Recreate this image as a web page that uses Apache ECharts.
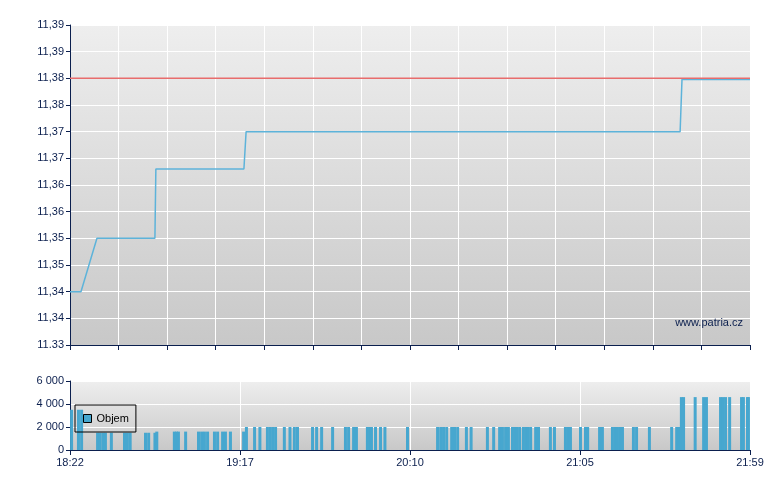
<!DOCTYPE html>
<html><head><meta charset="utf-8">
<script src="https://cdn.jsdelivr.net/npm/echarts@6/dist/echarts.min.js"></script>
<style>html,body{margin:0;padding:0;background:#fff}#c{width:780px;height:490px}</style>
</head><body><div id="c"></div>
<script>
// minutes since 18:22
const priceTimes = [0, 3.5, 8.6, 27.1, 27.4, 55.5, 56.2, 194.7, 195.3, 217];
const priceValues = [11.345, 11.345, 11.355, 11.355, 11.368, 11.368, 11.375, 11.375, 11.3848, 11.3848];
const prevClose = 11.385;
const priceTickLabels = ['11.33','11,34','11,34','11,35','11,35','11,36','11,36','11,37','11,37','11,38','11,38','11,39','11,39'];
const timeLabels = ['18:22','19:17','20:10','21:05','21:59'];
const volumeTickLabels = ['0','2 000','4 000','6 000'];
const volumeTimes = [
  0.5, 2.7, 3.7,
  8.8, 9.6, 10.5, 11.3, 13.2, 17.4, 18.3, 19.2, 24.1, 25.1, 27.1,
  27.7, 33.3, 34.0, 34.6, 36.9, 41.0, 42.0, 42.9, 43.9, 46.1, 47.1, 48.7, 49.6, 51.2, 55.4,
  56.3, 58.9, 60.6, 63.0, 63.9, 64.7, 65.6, 68.4, 70.2, 71.6, 72.6, 77.4, 78.7, 80.3, 83.8,
  87.9, 88.9, 90.5, 91.4, 94.9, 95.6, 96.2, 97.5, 99.1, 100.5, 107.7,
  117.3, 118.3, 119.2, 120.2, 121.8, 122.7, 123.7, 126.5, 128.0, 133.2, 135.2,
  137.1, 138.0, 139.0, 139.9, 141.2, 142.0, 142.7, 143.5, 144.7, 145.5, 146.2, 147.0, 148.6, 149.5,
  153.3, 154.6, 158.1, 158.9, 159.7, 162.9, 164.5, 165.2, 169.0, 169.9,
  173.1, 173.9, 174.7, 175.5, 176.3, 179.8, 180.8, 184.9, 192.0, 193.6, 194.2,
  195.1, 195.8, 199.5, 202.2, 203.1, 207.6, 208.4, 209.2, 210.5, 214.3, 214.9, 216.2, 216.5
];
const volumeValues = [
  3500, 3500, 3500,
  1500, 1500, 1500, 1500, 1500, 1500, 1500, 1500, 1500, 1500, 1500,
  1600, 1600, 1600, 1600, 1600, 1600, 1600, 1600, 1600, 1600, 1600, 1600, 1600, 1600, 1600,
  2000, 2000, 2000, 2000, 2000, 2000, 2000, 2000, 2000, 2000, 2000, 2000, 2000, 2000, 2000,
  2000, 2000, 2000, 2000, 2000, 2000, 2000, 2000, 2000, 2000, 2000,
  2000, 2000, 2000, 2000, 2000, 2000, 2000, 2000, 2000, 2000, 2000,
  2000, 2000, 2000, 2000, 2000, 2000, 2000, 2000, 2000, 2000, 2000, 2000, 2000, 2000,
  2000, 2000, 2000, 2000, 2000, 2000, 2000, 2000, 2000, 2000,
  2000, 2000, 2000, 2000, 2000, 2000, 2000, 2000, 2000, 2000, 2000,
  4600, 4600, 4600, 4600, 4600, 4600, 4600, 4600, 4600, 4600, 4600, 4600, 4600
];

const navy = '#0b1f4e';
const font = '"Liberation Sans", Arial, sans-serif';
const bg = () => ({type:'linear', x:0, y:0, x2:0, y2:1, colorStops:[{offset:0,color:'#eeeeee'},{offset:1,color:'#c8c8c8'}]});
const pMin = 11.335, pStep = 0.005;

const chart = echarts.init(document.getElementById('c'), null, {renderer:'canvas'});
chart.setOption({
  animation: false,
  backgroundColor: '#fff',
  grid: [
    {left:70, right:30, top:25, height:320, show:true, backgroundColor:bg(), borderWidth:0},
    {left:70, right:30, top:381, height:69, show:true, backgroundColor:bg(), borderWidth:0}
  ],
  legend: {
    data:['Objem'], left:75, top:405, orient:'horizontal',
    itemWidth:8, itemHeight:8, icon:'rect',
    itemStyle:{borderColor:'#000', borderWidth:1},
    padding:[8,7,8,8], borderColor:'#000', borderWidth:1, borderRadius:0,
    backgroundColor:'rgba(0,0,0,0)', shadowBlur:0,
    textStyle:{fontSize:11, color:'#000', fontFamily:font}
  },
  graphic: [{
    type:'text', right:37, top:317, z:100,
    style:{text:'www.patria.cz', fill:navy, font:'11px ' + font}
  }],
  xAxis: [
    {type:'value', gridIndex:0, min:0, max:217, interval:15.5,
     axisLine:{show:true, lineStyle:{color:navy, width:1}},
     axisTick:{show:true, length:5, lineStyle:{color:navy}},
     axisLabel:{show:false},
     splitLine:{show:true, lineStyle:{color:'#ffffff', width:1}}},
    {type:'value', gridIndex:1, min:0, max:217, interval:54.25,
     axisLine:{show:true, lineStyle:{color:navy, width:1}},
     axisTick:{show:true, length:5, lineStyle:{color:navy}},
     axisLabel:{show:true, color:navy, fontSize:11, fontFamily:font, margin:7,
       formatter:(v)=>timeLabels[Math.round(v/54.25)]},
     splitLine:{show:true, lineStyle:{color:'#ffffff', width:1}}}
  ],
  yAxis: [
    {type:'value', gridIndex:0, min:pMin, max:11.395, interval:pStep,
     axisLine:{show:true, lineStyle:{color:navy, width:1}},
     axisTick:{show:true, length:4, lineStyle:{color:navy}},
     axisLabel:{color:navy, fontSize:11, fontFamily:font, margin:6,
       formatter:(v)=>priceTickLabels[Math.round((v-pMin)/pStep)]},
     splitLine:{show:true, lineStyle:{color:'#ffffff', width:1}}},
    {type:'value', gridIndex:1, min:0, max:6000, interval:2000,
     axisLine:{show:true, lineStyle:{color:navy, width:1}},
     axisTick:{show:true, length:4, lineStyle:{color:navy}},
     axisLabel:{color:navy, fontSize:11, fontFamily:font, margin:6,
       formatter:(v)=>volumeTickLabels[Math.round(v/2000)]},
     splitLine:{show:true, lineStyle:{color:'#ffffff', width:1}}}
  ],
  series: [
    {name:'Cena', type:'line', xAxisIndex:0, yAxisIndex:0, showSymbol:false, symbol:'none',
     data: priceTimes.map((t,i)=>[t, priceValues[i]]),
     lineStyle:{color:'#5db3da', width:1.5}, z:3},
    {name:'Předchozí', type:'line', xAxisIndex:0, yAxisIndex:0, showSymbol:false, symbol:'none',
     data: [[0, prevClose],[217, prevClose]],
     lineStyle:{color:'#e86c6c', width:1.5}, z:4},
    {name:'Objem', type:'bar', xAxisIndex:1, yAxisIndex:1, barWidth:3, clip:true,
     data: volumeTimes.map((t,i)=>[t, volumeValues[i]]),
     itemStyle:{color:'#47a7cf'}}
  ]
});
</script></body></html>
